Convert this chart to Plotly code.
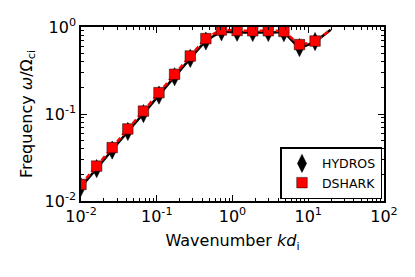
import plotly.graph_objects as go

# Wavenumber k d_i
k = [0.01, 0.0161, 0.0258, 0.0415, 0.0667, 0.107, 0.172, 0.277, 0.445,
     0.715, 1.15, 1.85, 2.97, 4.77, 7.66, 12.3, 19.8]
# Frequency omega / Omega_ci
hydros = [0.0145, 0.0236, 0.0385, 0.063, 0.101, 0.165, 0.268, 0.435, 0.69,
          0.88, 0.87, 0.865, 0.865, 0.86, 0.58, 0.68, 0.93]
dshark = [0.0155, 0.0252, 0.0411, 0.0673, 0.108, 0.176, 0.286, 0.464, 0.736,
          0.925, 0.912, 0.905, 0.905, 0.89, 0.628, 0.69, 0.93]
n_markers = 16

x_tickvals = [0.01, 0.1, 1, 10, 100]
x_ticktext = ["10<sup>-2</sup>", "10<sup>-1</sup>", "10<sup>0</sup>", "10<sup>1</sup>", "10<sup>2</sup>"]
y_tickvals = [0.01, 0.1, 1]
y_ticktext = ["10<sup>-2</sup>", "10<sup>-1</sup>", "10<sup>0</sup>"]

FONT = "DejaVu Sans"

fig = go.Figure()
fig.add_trace(go.Scatter(x=k, y=hydros, mode="lines", showlegend=False,
                         line=dict(color="black", width=2.5, shape="spline", smoothing=0.4)))
fig.add_trace(go.Scatter(x=k[:n_markers], y=hydros[:n_markers], mode="markers", name="HYDROS",
                         marker=dict(symbol="diamond-tall", size=13, color="black",
                                     line=dict(color="black", width=0.5))))
fig.add_trace(go.Scatter(x=k, y=dshark, mode="lines", showlegend=False,
                         line=dict(color="red", width=2.5, dash="5px,3px", shape="spline", smoothing=0.4)))
fig.add_trace(go.Scatter(x=k[:n_markers], y=dshark[:n_markers], mode="markers", name="DSHARK",
                         marker=dict(symbol="square", size=10.5, color="red",
                                     line=dict(color="black", width=0.5))))

axis_common = dict(
    type="log", showgrid=False, zeroline=False, showline=True, linecolor="black",
    linewidth=1.5, mirror="allticks", ticks="inside", ticklen=6, tickwidth=1,
    tickcolor="black", tickmode="array", automargin=False,
    tickfont=dict(family=FONT, size=16, color="black"),
    minor=dict(ticks="inside", ticklen=3, tickwidth=0.8, tickcolor="black",
               showgrid=False, dtick="D1"),
)

fig.update_xaxes(range=[-2, 2], tickvals=x_tickvals, ticktext=x_ticktext,
                 title=dict(text="Wavenumber <i>kd</i><sub>i</sub>",
                            font=dict(family=FONT, size=16, color="black"), standoff=10),
                 **axis_common)
fig.update_yaxes(range=[-2, 0], tickvals=y_tickvals, ticktext=y_ticktext,
                 title=dict(text="Frequency <i>ω</i>/Ω<sub>ci</sub>",
                            font=dict(family=FONT, size=16, color="black"), standoff=8),
                 **axis_common)

fig.update_layout(
    width=415, height=277,
    margin=dict(l=81, r=31, t=27, b=76),
    paper_bgcolor="white", plot_bgcolor="white",
    font=dict(family=FONT, color="black"),
    legend=dict(x=0.995, y=0.01, xanchor="right", yanchor="bottom",
                bordercolor="black", borderwidth=1.5, bgcolor="white",
                font=dict(family=FONT, size=12.5, color="black"),
                itemwidth=30, tracegroupgap=0),
)

fig.write_html("out.html", post_script="document.body.style.margin='0';",
               config={"displayModeBar": False})
